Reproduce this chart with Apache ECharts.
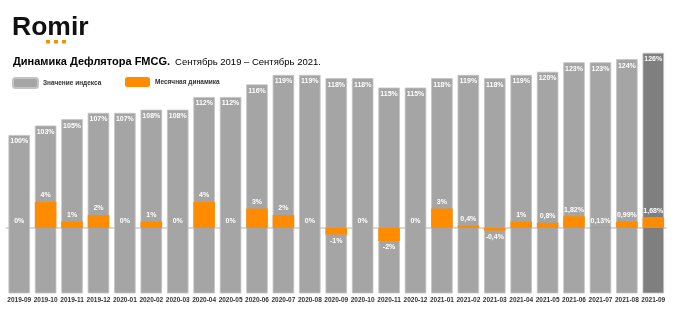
<!DOCTYPE html>
<html><head><meta charset="utf-8">
<script src="https://cdn.jsdelivr.net/npm/echarts@6/dist/echarts.min.js"></script>
<style>html,body{margin:0;padding:0;background:#fff}#c{width:680px;height:325px}</style>
</head><body><div id="c"></div>
<script>
const categories = ['2019-09','2019-10','2019-11','2019-12','2020-01','2020-02','2020-03','2020-04','2020-05','2020-06','2020-07','2020-08','2020-09','2020-10','2020-11','2020-12','2021-01','2021-02','2021-03','2021-04','2021-05','2021-06','2021-07','2021-08','2021-09'];
const indexValues = [100,103,105,107,107,108,108,112,112,116,119,119,118,118,115,115,118,119,118,119,120,123,123,124,126];
const monthlyValues = [0,4,1,2,0,1,0,4,0,3,2,0,-1,0,-2,0,3,0.4,-0.4,1,0.8,1.82,0.13,0.99,1.68];
const seriesNames = ['Значение индекса','Месячная динамика'];

const chart = echarts.init(document.getElementById('c'));
const fmt = v => String(v).replace('.', ',') + '%';
const font = '"Liberation Sans", Arial, sans-serif';
chart.setOption({
  animation: false,
  textStyle: {fontFamily: font},
  title: {
    left: 13, top: 53, padding: 0,
    text: '{b|Динамика Дефлятора FMCG.} {n|Сентябрь 2019 – Сентябрь 2021.}',
    textStyle: {fontWeight: 'normal', rich: {
      b: {fontSize: 11, fontWeight: 'bold', color: '#000', fontFamily: font},
      n: {fontSize: 9.5, fontWeight: 'normal', color: '#000', fontFamily: font}
    }}
  },
  graphic: [
    {type: 'text', left: 12, top: 14, style: {text: 'Romir', font: 'bold 26.5px ' + font, fill: '#111'}},
    {type: 'rect', shape: {x: 46, y: 40, width: 4, height: 3.5}, style: {fill: '#f39200'}},
    {type: 'rect', shape: {x: 54, y: 40, width: 4, height: 3.5}, style: {fill: '#f39200'}},
    {type: 'rect', shape: {x: 62, y: 40, width: 4, height: 3.5}, style: {fill: '#f39200'}}
  ],
  legend: [
    {data: [seriesNames[0]], left: 7, top: 72, itemWidth: 25, itemHeight: 10, itemGap: 5, icon: 'roundRect',
     textStyle: {fontSize: 6.5, fontWeight: 'bold', color: '#333'}},
    {data: [seriesNames[1]], left: 120, top: 72, itemWidth: 25, itemHeight: 10, itemGap: 5, icon: 'roundRect',
     textStyle: {fontSize: 6.5, fontWeight: 'bold', color: '#333'}}
  ],
  grid: {left: 6, right: 13.5, top: 37, bottom: 32},
  xAxis: {
    type: 'category', data: categories,
    axisLine: {lineStyle: {color: '#d9d9d9', width: 1}},
    axisTick: {show: false},
    axisLabel: {fontSize: 6.5, fontWeight: 'bold', color: '#333', margin: 4, interval: 0}
  },
  yAxis: [
    {type: 'value', min: 50, max: 131, show: false, splitLine: {show: false}},
    {type: 'value', min: -10, max: 29.4, show: false, splitLine: {show: false}}
  ],
  series: [
    {
      name: seriesNames[0], type: 'bar', yAxisIndex: 0, barWidth: 21.5, barGap: '-100%',
      itemStyle: {color: '#a5a5a5', borderColor: '#c4c4c4', borderWidth: 0.8},
      data: indexValues.map((v, i) => i === indexValues.length - 1 ? {value: v, itemStyle: {color: '#7f7f7f'}} : v),
      label: {show: true, position: 'insideTop', distance: 3, fontSize: 7, fontWeight: 'bold', color: '#fff',
              formatter: p => fmt(p.value)},
      z: 1
    },
    {
      name: seriesNames[1], type: 'bar', yAxisIndex: 1, barWidth: 21.5, barGap: '-100%',
      itemStyle: {color: '#ff8c00'},
      data: monthlyValues.map(v => ({value: v, label: {position: v < 0 ? 'bottom' : 'top'}})),
      label: {show: true, distance: 3, fontSize: 7, fontWeight: 'bold', color: '#fff',
              formatter: p => fmt(p.value)},
      markLine: {silent: true, symbol: 'none', label: {show: false},
                 lineStyle: {color: '#d9d9d9', width: 2, type: 'solid'}, data: [{yAxis: 0}], z: 1},
      z: 3
    }
  ]
});
</script></body></html>
